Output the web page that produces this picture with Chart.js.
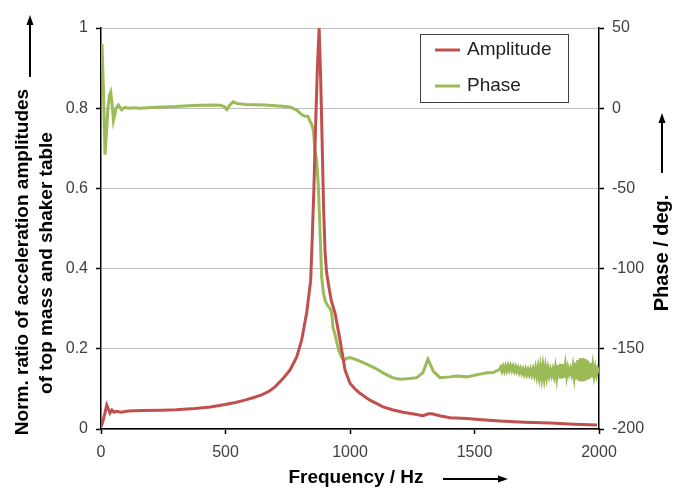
<!DOCTYPE html>
<html>
<head>
<meta charset="utf-8">
<script src="https://cdn.jsdelivr.net/npm/chart.js@4.4.1/dist/chart.umd.min.js"></script>
<style>
  html, body { margin: 0; padding: 0; background: #fff; }
</style>
</head>
<body>
<canvas id="chart" width="687" height="490"></canvas>
<script>
/* Data */
const ampFreq = [0, 8, 16, 23, 30, 36, 44, 52, 60, 80, 110, 160, 244, 300, 378, 440, 498, 540, 578, 610, 645, 675, 699, 730, 759, 786, 806, 826, 842, 848, 855, 862, 869, 876, 882, 888, 894, 900, 906, 915, 925, 940, 960, 980, 1000, 1020, 1040, 1080, 1133, 1170, 1213, 1250, 1293, 1315, 1329, 1360, 1402, 1470, 1530, 1602, 1700, 1803, 1900, 1992];
const ampValue = [0.005, 0.02, 0.04, 0.06, 0.05, 0.04, 0.047, 0.042, 0.044, 0.042, 0.045, 0.046, 0.047, 0.048, 0.051, 0.055, 0.061, 0.066, 0.072, 0.078, 0.085, 0.094, 0.105, 0.125, 0.147, 0.18, 0.222, 0.29, 0.37, 0.47, 0.6, 0.76, 0.9, 1.0, 0.88, 0.72, 0.55, 0.44, 0.39, 0.355, 0.32, 0.289, 0.222, 0.147, 0.114, 0.1, 0.089, 0.072, 0.055, 0.048, 0.042, 0.038, 0.033, 0.038, 0.038, 0.033, 0.028, 0.026, 0.023, 0.02, 0.017, 0.015, 0.012, 0.01];

const phaseFreq = [0, 4, 10, 16, 22, 28, 34, 39, 45, 50, 55, 60, 70, 83, 96, 110, 130, 160, 200, 250, 300, 350, 400, 450, 480, 495, 505, 515, 531, 545, 580, 620, 660, 700, 740, 759, 786, 806, 819, 831, 839, 846, 853, 859, 866, 873, 880, 886, 893, 900, 910, 920, 926, 932, 940, 947, 955, 967, 975, 985, 1000, 1030, 1067, 1100, 1133, 1170, 1201, 1240, 1268, 1293, 1313, 1335, 1361, 1400, 1430, 1470, 1500, 1522, 1550, 1575, 1600,
  1605, 1610, 1615, 1620, 1625, 1630, 1635, 1640, 1645, 1650, 1655, 1660, 1665, 1670, 1675, 1680, 1685, 1690, 1695, 1700,
  1705, 1710, 1715, 1720, 1725, 1730, 1735, 1740, 1745, 1750, 1755, 1760, 1765, 1770, 1775, 1780, 1785, 1790, 1795, 1800,
  1805, 1810, 1815, 1820, 1825, 1830, 1835, 1840, 1845, 1850, 1855, 1860, 1865, 1870, 1875, 1880, 1885, 1890, 1895, 1900,
  1905, 1910, 1915, 1920, 1925, 1930, 1935, 1940, 1945, 1950, 1955, 1960, 1965, 1970, 1975, 1980, 1985, 1990, 1995, 2000];
const phaseDeg = [36, 40, 10, -29, -15, 0, 8, 10, 2, -7.5, -4, 0, 2, -1, 0.5, 0, 0.3, 0, 0.5, 0.8, 1, 1.5, 1.8, 2, 1.8, 1, -0.8, 1.5, 4, 3, 2.3, 2.2, 2, 1.5, 1, 0.8, -1.2, -4, -5, -5, -8, -10, -14, -26, -32.5, -49, -78, -105, -115, -120, -123, -125, -127, -137, -141, -146, -151, -155.4, -157.5, -156, -155.4, -157, -159.5, -162, -165, -168, -169, -168.5, -168, -164.8, -156.5, -164, -168, -167.5, -167, -167.5, -166.5, -165.8, -165, -164.8, -163,
  -161.5, -164, -161.2, -163.8, -160.8, -163.5, -160.5, -163.2, -160.6, -163.4, -161, -163.8, -161.4, -164.2, -162, -164.8, -162.4, -165.2, -162.8, -165.8,
  -163, -166, -163.2, -166, -163, -166.2, -162.8, -166.4, -162.2, -167, -161.8, -167.6, -161.4, -168, -161.2, -168, -161.6, -167.4, -162.4, -166.8,
  -163.2, -166.6, -163, -167, -161.8, -167.8, -160.2, -168.4, -159.4, -168.6, -159.6, -168, -160.6, -167, -162, -165.6, -162.6, -165.8, -161, -167.4,
  -158.6, -169, -157, -170, -156, -170.4, -155.8, -170.2, -156.4, -169.6, -157.4, -168.8, -159, -167.8, -160.6, -166.8, -162, -166.4, -162.8, -165];

const seriesNames = ["Amplitude", "Phase"];
const seriesColors = ["#C0504D", "#9BBB59"];

const freqTicks = [0, 500, 1000, 1500, 2000];
const ratioTicks = [0, 0.2, 0.4, 0.6, 0.8, 1];
const phaseTicks = [-200, -150, -100, -50, 0, 50];

const FONT = "'Liberation Sans', Arial, sans-serif";

function toPoints(xs, ys) {
  return xs.map(function (x, i) { return { x: x, y: ys[i] }; });
}

function plainLabel(value) {
  return String(value);
}

function arrow(ctx, x1, y1, x2, y2) {
  const ang = Math.atan2(y2 - y1, x2 - x1);
  const len = 10, half = 3.5;
  ctx.save();
  ctx.strokeStyle = "#000";
  ctx.fillStyle = "#000";
  ctx.lineWidth = 2;
  ctx.beginPath();
  ctx.moveTo(x1, y1);
  ctx.lineTo(x2 - Math.cos(ang) * len, y2 - Math.sin(ang) * len);
  ctx.stroke();
  ctx.beginPath();
  ctx.moveTo(x2, y2);
  ctx.lineTo(x2 - Math.cos(ang) * len - Math.sin(ang) * half, y2 - Math.sin(ang) * len + Math.cos(ang) * half);
  ctx.lineTo(x2 - Math.cos(ang) * len + Math.sin(ang) * half, y2 - Math.sin(ang) * len - Math.cos(ang) * half);
  ctx.closePath();
  ctx.fill();
  ctx.restore();
}

function rotatedText(ctx, text, x, y) {
  ctx.save();
  ctx.translate(x, y);
  ctx.rotate(-Math.PI / 2);
  ctx.fillText(text, 0, 0);
  ctx.restore();
}

// axis titles, arrows and the boxed legend
const decorations = {
  id: "decorations",
  afterDraw: function (chart) {
    const ctx = chart.ctx;
    ctx.save();
    ctx.fillStyle = "#000";
    ctx.font = "bold 19px " + FONT;
    ctx.textAlign = "center";
    ctx.textBaseline = "middle";

    rotatedText(ctx, "Norm. ratio of acceleration amplitudes", 23, 262);
    rotatedText(ctx, "of top mass and shaker table", 47, 263);
    arrow(ctx, 30, 77, 30, 15);

    ctx.font = "bold 20px " + FONT;
    rotatedText(ctx, "Phase / deg.", 662, 253);
    arrow(ctx, 662, 173, 662, 113);

    ctx.font = "bold 19px " + FONT;
    ctx.fillText("Frequency / Hz", 356, 478);
    arrow(ctx, 443, 479, 508, 479);

    // legend
    const lx = 420, ly = 34, lw = 148, lh = 68;
    ctx.fillStyle = "#fff";
    ctx.fillRect(lx, ly, lw, lh);
    ctx.strokeStyle = "#404040";
    ctx.lineWidth = 1;
    ctx.strokeRect(lx + 0.5, ly + 0.5, lw, lh);
    ctx.font = "19px " + FONT;
    ctx.textAlign = "left";
    chart.data.datasets.forEach(function (ds, i) {
      const y = 50 + i * 36;
      ctx.strokeStyle = ds.borderColor;
      ctx.lineWidth = 3;
      ctx.beginPath();
      ctx.moveTo(435, y);
      ctx.lineTo(460, y);
      ctx.stroke();
      ctx.fillStyle = "#222";
      ctx.fillText(ds.label, 467, y);
    });
    ctx.restore();
  }
};

const tickFont = { family: FONT, size: 16 };

new Chart(document.getElementById("chart"), {
  type: "line",
  data: {
    datasets: [
      {
        label: seriesNames[0],
        data: toPoints(ampFreq, ampValue),
        yAxisID: "y",
        borderColor: seriesColors[0],
        borderWidth: 3,
        pointRadius: 0,
        tension: 0
      },
      {
        label: seriesNames[1],
        data: toPoints(phaseFreq, phaseDeg),
        yAxisID: "y2",
        borderColor: seriesColors[1],
        borderWidth: 3,
        pointRadius: 0,
        tension: 0
      }
    ]
  },
  options: {
    responsive: false,
    animation: false,
    devicePixelRatio: 1,
    layout: { padding: { left: 0, right: 0, top: 28, bottom: 0 } },
    plugins: {
      legend: { display: false },
      tooltip: { enabled: false }
    },
    scales: {
      x: {
        type: "linear",
        min: 0,
        max: 2000,
        afterBuildTicks: function (s) { s.ticks = freqTicks.map(function (v) { return { value: v }; }); },
        afterFit: function (s) { s.height = 61; },
        ticks: { color: "#404040", font: tickFont, padding: 9, maxRotation: 0, callback: plainLabel },
        grid: { drawOnChartArea: false, tickLength: 5, tickColor: "#000", tickWidth: 1.5 },
        border: { color: "#000", width: 1.5 }
      },
      y: {
        position: "left",
        min: 0,
        max: 1,
        afterBuildTicks: function (s) { s.ticks = ratioTicks.map(function (v) { return { value: v }; }); },
        afterFit: function (s) { s.width = 101; },
        ticks: { color: "#404040", font: tickFont, padding: 8, callback: plainLabel },
        grid: { color: "#BFBFBF", lineWidth: 1, tickLength: 5, tickColor: "#000", tickWidth: 1.5 },
        border: { color: "#000", width: 1.5 }
      },
      y2: {
        position: "right",
        min: -200,
        max: 50,
        afterBuildTicks: function (s) { s.ticks = phaseTicks.map(function (v) { return { value: v }; }); },
        afterFit: function (s) { s.width = 88; },
        ticks: { color: "#404040", font: tickFont, padding: 8, callback: plainLabel },
        grid: { drawOnChartArea: false, tickLength: 5, tickColor: "#000", tickWidth: 1.5 },
        border: { color: "#000", width: 1.5 }
      }
    }
  },
  plugins: [decorations]
});
</script>
</body>
</html>
